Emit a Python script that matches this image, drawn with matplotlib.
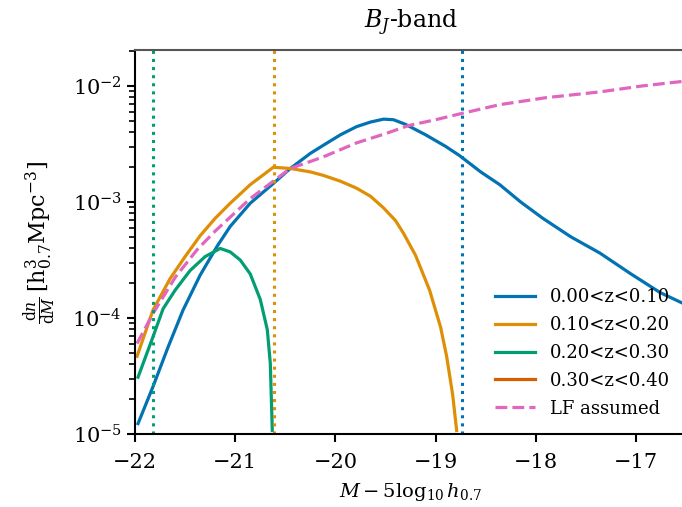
import numpy as np
import matplotlib
matplotlib.use('Agg')
import matplotlib.pyplot as plt

plt.rcParams['font.family'] = 'DejaVu Serif'
plt.rcParams['mathtext.fontset'] = 'dejavuserif'

# z bin 0.00-0.10  (magnitude, log10 dn/dM)
mag_z0 = [-21.97, -21.82, -21.67, -21.52, -21.35, -21.18, -21.05, -20.85, -20.62, -20.45,
          -20.25, -20.12, -19.95, -19.79, -19.65, -19.52, -19.42, -19.3, -19.1, -18.9,
          -18.76, -18.55, -18.36, -18.15, -17.93, -17.65, -17.36, -17.05, -16.76, -16.54]
logn_z0 = [-4.91, -4.59, -4.25, -3.93, -3.63, -3.38, -3.21, -3.01, -2.84, -2.71,
           -2.58, -2.51, -2.42, -2.35, -2.31, -2.285, -2.29, -2.33, -2.42, -2.52,
           -2.60, -2.74, -2.85, -3.00, -3.14, -3.30, -3.44, -3.62, -3.78, -3.87]

# z bin 0.10-0.20
mag_z1 = [-21.98, -21.82, -21.65, -21.5, -21.35, -21.2, -21.05, -20.85, -20.62, -20.45,
          -20.25, -20.12, -19.95, -19.79, -19.65, -19.52, -19.4, -19.32, -19.2, -19.06,
          -18.95, -18.89, -18.83, -18.79]
logn_z1 = [-4.33, -3.93, -3.66, -3.47, -3.29, -3.14, -3.01, -2.85, -2.70, -2.71,
           -2.74, -2.77, -2.82, -2.88, -2.95, -3.05, -3.16, -3.27, -3.46, -3.76,
           -4.08, -4.33, -4.66, -4.97]

# z bin 0.20-0.30
mag_z2 = [-21.97, -21.82, -21.72, -21.6, -21.45, -21.3, -21.15, -21.05, -20.95, -20.85,
          -20.75, -20.68, -20.65, -20.63]
logn_z2 = [-4.51, -4.16, -3.92, -3.76, -3.59, -3.47, -3.40, -3.43, -3.50, -3.62,
           -3.84, -4.10, -4.39, -4.97]

# assumed LF
mag_lf = [-21.98, -21.82, -21.6, -21.38, -21.2, -21.05, -20.85, -20.62, -20.45, -20.25,
          -20.12, -19.79, -19.5, -19.27, -19.0, -18.76, -18.36, -17.9, -17.36, -16.95,
          -16.54]
logn_lf = [-4.22, -3.96, -3.65, -3.41, -3.25, -3.13, -2.97, -2.82, -2.71, -2.65,
           -2.61, -2.49, -2.41, -2.34, -2.29, -2.24, -2.16, -2.10, -2.05, -2.00,
           -1.96]

# magnitude limits per bin
mag_lim = [-18.74, -20.61, -21.82]

c_blue = '#0173b2'
c_orange = '#de8f05'
c_green = '#029e73'
c_red = '#d55e00'
c_pink = '#e066c0'

fig = plt.figure(figsize=(6.82, 5.07), dpi=100)
ax = fig.add_axes([0.198, 0.144, 0.808, 0.757])

ax.plot(mag_z0, 10**np.array(logn_z0), color=c_blue, lw=2.3, label='0.00<z<0.10')
ax.plot(mag_z1, 10**np.array(logn_z1), color=c_orange, lw=2.3, label='0.10<z<0.20')
ax.plot(mag_z2, 10**np.array(logn_z2), color=c_green, lw=2.3, label='0.20<z<0.30')
ax.plot([], [], color=c_red, lw=2.3, label='0.30<z<0.40')
ax.plot(mag_lf, 10**np.array(logn_lf), color=c_pink, lw=2.3, ls='--', label='LF assumed')

for m, c in zip(mag_lim, [c_blue, c_orange, c_green]):
    ax.axvline(m, color=c, lw=2.2, ls=':')

ax.set_yscale('log')
ax.set_xlim(-22, -16.5)
ax.set_ylim(1e-5, 2.04e-2)
ax.set_xticks([-22, -21, -20, -19, -18, -17])
ax.tick_params(labelsize=15, width=1.5, length=6)
ax.tick_params(axis='x', pad=8)
ax.tick_params(which='minor', width=1.2, length=4)

ax.set_xlabel(r'$M - 5\log_{10}h_{0.7}$', fontsize=14, labelpad=6)
ax.set_ylabel(r'$\frac{\mathrm{d}n}{\mathrm{d}M}\,[\mathrm{h}_{0.7}^{3}\mathrm{Mpc}^{-3}]$', fontsize=16, labelpad=10)
ax.set_title(r'$B_J$-band', fontsize=17, pad=16)

for s in ax.spines.values():
    s.set_linewidth(1.5)
ax.spines['top'].set_color('#555555')

ax.legend(loc='lower right', bbox_to_anchor=(1.0, 0.0), frameon=False, fontsize=13,
          handlelength=2.2, labelspacing=0.55)

fig.savefig('out.png', dpi=100)
